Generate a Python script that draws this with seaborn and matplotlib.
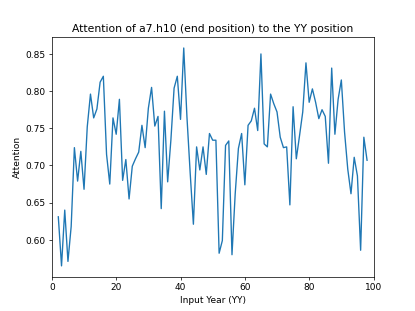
import matplotlib
matplotlib.use("Agg")
import matplotlib.pyplot as plt
import seaborn as sns
import pandas as pd

# values, one per input year 2..98
years = list(range(2, 99))
attention = [
    0.631, 0.565, 0.640, 0.571, 0.618, 0.724, 0.679, 0.719, 0.668, 0.752,  # 2-11
    0.796, 0.764, 0.776, 0.812, 0.820, 0.715, 0.675, 0.764, 0.742, 0.789,  # 12-21
    0.680, 0.708, 0.655, 0.699, 0.709, 0.718, 0.754, 0.724, 0.777, 0.805,  # 22-31
    0.753, 0.766, 0.642, 0.773, 0.678, 0.734, 0.804, 0.820, 0.762, 0.858,  # 32-41
    0.765, 0.690, 0.621, 0.725, 0.694, 0.725, 0.688, 0.743, 0.734, 0.734,  # 42-51
    0.582, 0.599, 0.727, 0.733, 0.580, 0.662, 0.723, 0.743, 0.674, 0.754,  # 52-61
    0.760, 0.777, 0.747, 0.850, 0.729, 0.725, 0.796, 0.783, 0.772, 0.738,  # 62-71
    0.724, 0.725, 0.647, 0.779, 0.709, 0.740, 0.772, 0.838, 0.785, 0.803,  # 72-81
    0.785, 0.763, 0.775, 0.766, 0.703, 0.831, 0.742, 0.789, 0.815, 0.745,  # 82-91
    0.695, 0.662, 0.711, 0.686, 0.586, 0.738, 0.707,                       # 92-98
]

df = pd.DataFrame({"year": years, "attention": attention})

fig, ax = plt.subplots(figsize=(6.4, 4.8), dpi=415 / 6.4)
sns.lineplot(data=df, x="year", y="attention", ax=ax)

ax.set_xlim(0, 100)
ax.set_title("Attention of a7.h10 (end position) to the YY position")
ax.set_xlabel("Input Year (YY)")
ax.set_ylabel("Attention")

fig.savefig("out.png", dpi=415 / 6.4)
